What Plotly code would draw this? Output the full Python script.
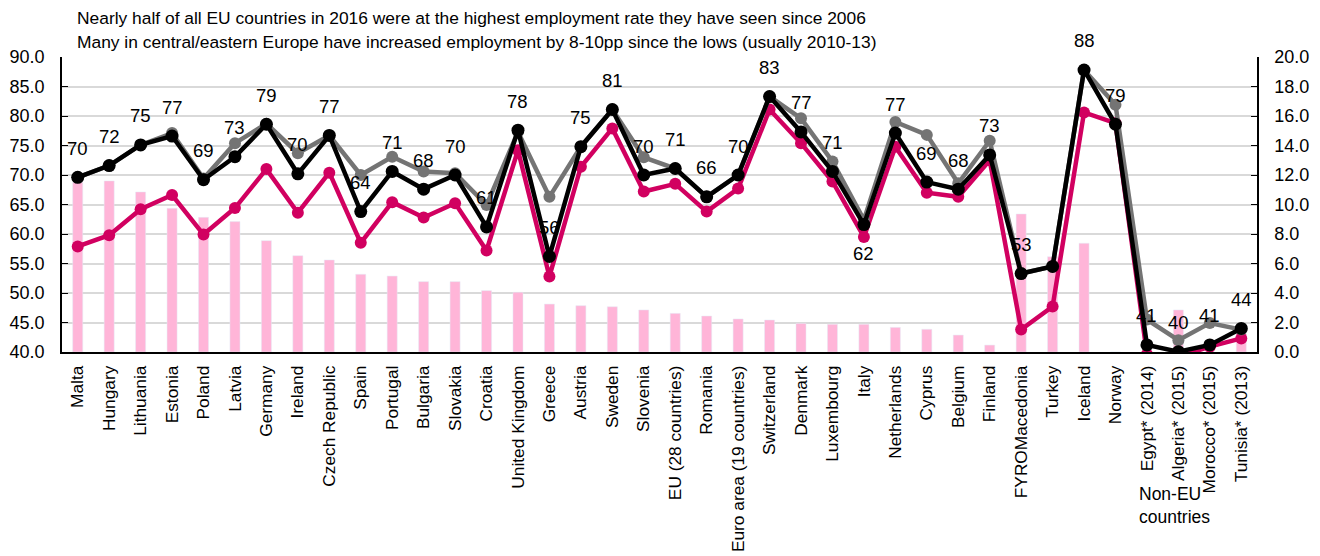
import plotly.graph_objects as go

countries = [
    "Malta", "Hungary", "Lithuania", "Estonia", "Poland", "Latvia", "Germany",
    "Ireland", "Czech Republic", "Spain", "Portugal", "Bulgaria", "Slovakia",
    "Croatia", "United Kingdom", "Greece", "Austria", "Sweden", "Slovenia",
    "EU (28 countries)", "Romania", "Euro area (19 countries)", "Switzerland",
    "Denmark", "Luxembourg", "Italy", "Netherlands", "Cyprus", "Belgium",
    "Finland", "FYROMacedonia", "Turkey", "Iceland", "Norway",
    "Egypt* (2014)", "Algeria* (2015)", "Morocco* (2015)", "Tunisia* (2013)",
]

# Employment rate 2016 (black), pre-crisis / earlier peak (grey), lowest point (magenta)
rate_2016 = [69.6, 71.6, 75.1, 76.6, 69.2, 73.1, 78.6, 70.2, 76.7, 63.8, 70.6,
             67.6, 70.0, 61.2, 77.6, 56.2, 74.8, 81.1, 70.0, 71.1, 66.3, 70.0,
             83.3, 77.3, 70.6, 61.6, 77.1, 68.8, 67.6, 73.4, 53.3, 54.5, 87.8,
             78.6, 41.2, 40.05, 41.2, 44.0]
rate_peak = [69.6, 71.6, 75.1, 77.1, 69.4, 75.4, 78.7, 73.7, 76.7, 70.0, 73.1,
             70.6, 70.3, 64.9, 77.3, 66.3, 74.8, 81.1, 73.0, 71.1, 66.3, 70.0,
             83.3, 79.6, 72.3, 62.4, 79.0, 76.8, 68.6, 75.8, 53.3, 54.5, 87.8,
             81.9, 45.5, 42.0, 44.9, 43.8]
rate_low = [57.9, 59.8, 64.2, 66.6, 59.9, 64.4, 71.0, 63.6, 70.4, 58.5, 65.4,
            62.8, 65.2, 57.2, 74.2, 52.8, 71.4, 77.9, 67.2, 68.5, 63.8, 67.7,
            81.1, 75.4, 68.9, 59.5, 74.8, 67.0, 66.3, 72.5, 43.8, 47.7, 80.6,
            78.8, 39.6, 39.2, 40.9, 42.3]
# Increase since the low, percentage points (right axis)
gain_pp = [11.5, 11.6, 10.85, 9.74, 9.13, 8.84, 7.55, 6.53, 6.24, 5.27, 5.15,
           4.77, 4.77, 4.16, 4.05, 3.25, 3.14, 3.07, 2.85, 2.62, 2.44, 2.24,
           2.17, 1.94, 1.88, 1.88, 1.67, 1.54, 1.15, 0.47, 9.36, 6.46, 7.37,
           0.0, 0.0, 2.85, 0.0, 1.27]
# Countries whose 2016 value is not labelled / labelled below the point
no_label = {"Turkey"}
label_below = {"Italy"}

title_lines = [
    "Nearly half of all EU countries in 2016 were at the highest employment rate they have seen since 2006",
    "Many in central/eastern Europe have increased employment by 8-10pp since the lows (usually 2010-13)",
]
group_label = "Non-EU<br>countries"

FONT = "Liberation Sans, Arial, sans-serif"
PINK = "#d10060"
GREY = "#747474"
BAR = "#ffb5d8"

fig = go.Figure()
fig.add_trace(go.Bar(x=countries, y=gain_pp, marker_color=BAR, width=0.32,
                     yaxis="y", showlegend=False))
fig.add_trace(go.Scatter(x=countries, y=rate_low, mode="lines+markers", yaxis="y2",
                         line=dict(color=PINK, width=4.5), marker=dict(size=12, color=PINK),
                         showlegend=False))
fig.add_trace(go.Scatter(x=countries, y=rate_peak, mode="lines+markers", yaxis="y2",
                         line=dict(color=GREY, width=4.5), marker=dict(size=12, color=GREY),
                         showlegend=False))
fig.add_trace(go.Scatter(x=countries, y=rate_2016, mode="lines+markers", yaxis="y2",
                         line=dict(color="black", width=4.5), marker=dict(size=13, color="black"),
                         showlegend=False))

annotations = []
for c, v in zip(countries, rate_2016):
    if c in no_label:
        continue
    annotations.append(dict(
        x=c, y=v, xref="x", yref="y2", text=str(int(round(v))), showarrow=False,
        yshift=-29 if c in label_below else 29,
        font=dict(family=FONT, size=18.5, color="black"),
    ))
for i, line in enumerate(title_lines):
    annotations.append(dict(
        x=(75 - 62) / 1195, y=(352 - 18 - 24 * i) / 295, xref="paper", yref="paper",
        text=line, showarrow=False, xanchor="left", yanchor="middle",
        font=dict(family=FONT, size=17.4, color="black"),
    ))
annotations.append(dict(
    x=(1137 - 62) / 1195, y=(352 - 482) / 295, xref="paper", yref="paper",
    text=group_label, showarrow=False, xanchor="left", yanchor="top", align="left",
    font=dict(family=FONT, size=17.5, color="black"),
))

fig.update_layout(
    width=1320, height=556,
    margin=dict(l=62, r=63, t=57, b=204),
    paper_bgcolor="white", plot_bgcolor="white",
    font=dict(family=FONT, size=17.5, color="black"),
    bargap=0.68,
    xaxis=dict(type="category", tickangle=-90, showline=True, linecolor="black",
               linewidth=1.5, ticks="", showgrid=False, ticklabelstandoff=5,
               automargin=False,
               tickfont=dict(size=17.3), range=[-0.5, len(countries) - 0.5]),
    yaxis=dict(side="right", range=[0, 20], dtick=2, tickformat=".1f",
               showgrid=False, showline=True, linecolor="black", linewidth=1.5,
               ticks="inside", ticklen=6, tickcolor="black", zeroline=False,
               automargin=False,
               ticklabelstandoff=12, tickfont=dict(size=18)),
    yaxis2=dict(side="left", overlaying="y", range=[40, 90], dtick=5, tickformat=".1f",
                showgrid=True, gridcolor="#d9d9d9", gridwidth=1.5,
                showline=True, linecolor="black", linewidth=1.5,
                ticks="inside", ticklen=6, tickcolor="black", zeroline=False,
                automargin=False,
                ticklabelstandoff=12, tickfont=dict(size=18)),
    annotations=annotations,
)

fig.write_html("out.html")
